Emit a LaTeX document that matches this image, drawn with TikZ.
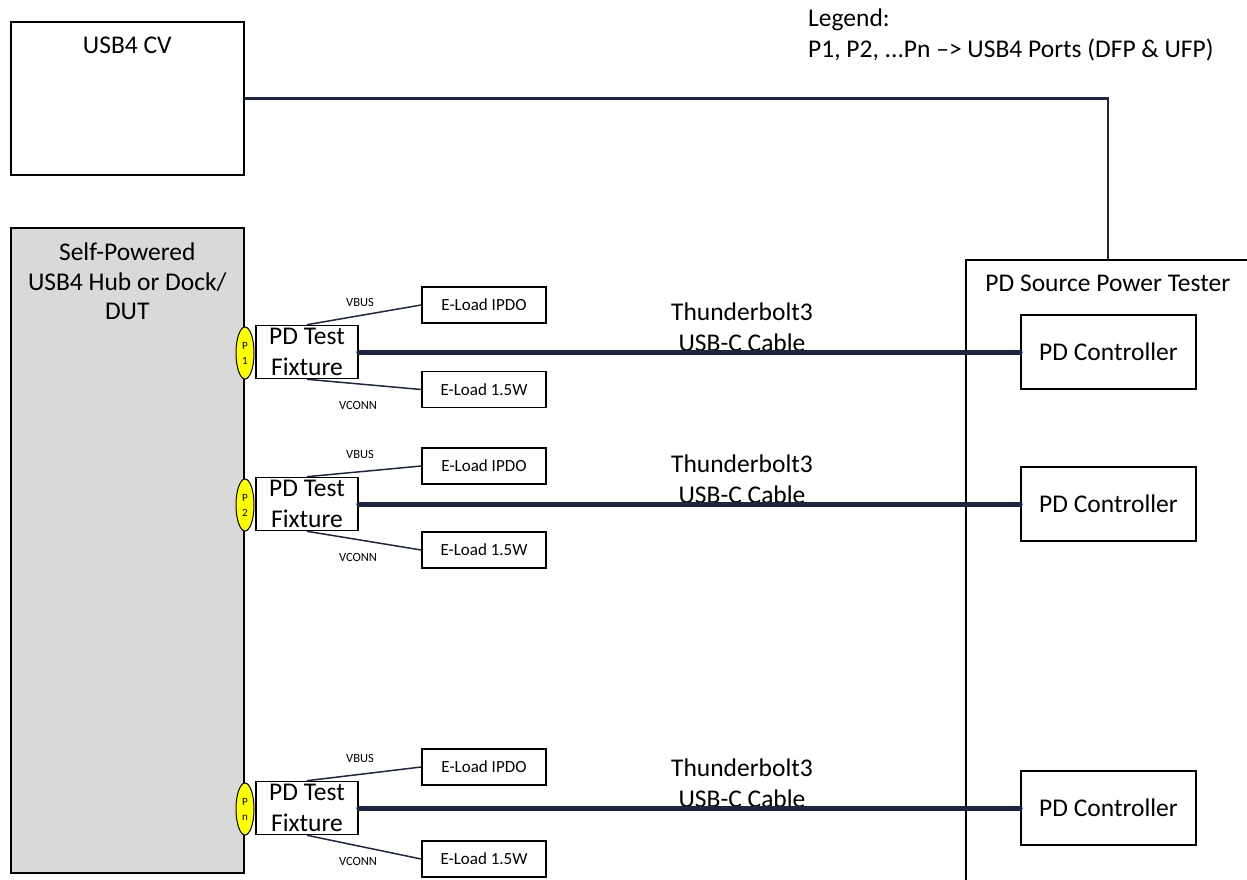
\documentclass[tikz,border=0pt]{standalone}
\usepackage{fontspec}
\setmainfont{Carlito}
\usetikzlibrary{positioning,shapes.geometric}
\definecolor{navy}{RGB}{31,38,64}
\definecolor{dutgray}{RGB}{217,217,217}
\definecolor{portyellow}{RGB}{255,255,0}

\begin{document}
\begin{tikzpicture}[x=1pt,y=-1pt,
  box/.style={draw=black,line width=1.6pt,inner sep=0pt},
  bigtext/.style={inner sep=0pt,font=\fontsize{25.5}{31}\selectfont,align=center},
  loadbox/.style={box,minimum width=124,minimum height=36,font=\fontsize{17}{20}\selectfont},
  porttag/.style={draw=black,line width=1pt,fill=portyellow,ellipse,minimum width=18,minimum height=52,inner sep=0pt,font=\fontsize{11}{15}\selectfont,align=center},
  wire/.style={draw=navy,line width=1.5pt},
  cable/.style={draw=navy,line width=5pt,line cap=round},
  tiny/.style={inner sep=0pt,font=\fontsize{12.5}{15}\selectfont}]

\useasboundingbox (0,0) rectangle (1247,880);

\node[box,anchor=north west,minimum width=233,minimum height=153] (cv) at (10,21) {};
\node[bigtext,below=16pt of cv.north] (cvtitle) {USB4 CV};

\node[box,fill=dutgray,anchor=north west,minimum width=233,minimum height=645] (dut) at (10,227) {};
\node[bigtext,below=16pt of dut.north,font=\fontsize{25.5}{29.5}\selectfont] (duttitle) {Self-Powered\\USB4 Hub or Dock/\\DUT};

\node[box,anchor=north west,minimum width=284,minimum height=640] (tester) at (965,259) {};
\node[bigtext,below=16pt of tester.north] (testertitle) {PD Source Power Tester};

\draw[navy,line width=2.5pt] (cv.east) -| (tester.north);

\node[bigtext,anchor=base west] (legend) at (808,27) {Legend:};
\node[bigtext,anchor=base west] (legendtext) at (808,58) {P1, P2, ...Pn –> USB4 Ports (DFP \& UFP)};

\foreach \p/\y/\ya/\yb in {1/352/305/389.5, 2/504/466/550, n/808/767/859}{
  \node[porttag] (port\p) at (245,\y+1) {P\\\p};
  \node[box,minimum width=102,minimum height=53,font=\fontsize{25.5}{31.5}\selectfont,align=center] (fix\p) at (307,\y) {PD Test\\Fixture};
  \node[loadbox] (ipdo\p) at (484,\ya) {E-Load IPDO};
  \node[loadbox] (watt\p) at (484,\yb) {E-Load 1.5W};
  \node[box,minimum width=175,minimum height=74,font=\fontsize{25.5}{31}\selectfont] (ctrl\p) at (1108.5,\y) {PD Controller};
  \draw[wire] (fix\p.north) -- (ipdo\p.west);
  \draw[wire] (fix\p.south) -- (watt\p.west);
  \node[tiny] (vbus\p) at (360,\y-50) {VBUS};
  \node[tiny] (vconn\p) at (358,\y+53) {VCONN};
  \node[bigtext] (tb\p) at (742,\y-25) {Thunderbolt3\\USB-C Cable};
  \draw[cable] (fix\p.east) -- (ctrl\p.west);
}
\end{tikzpicture}
\end{document}
